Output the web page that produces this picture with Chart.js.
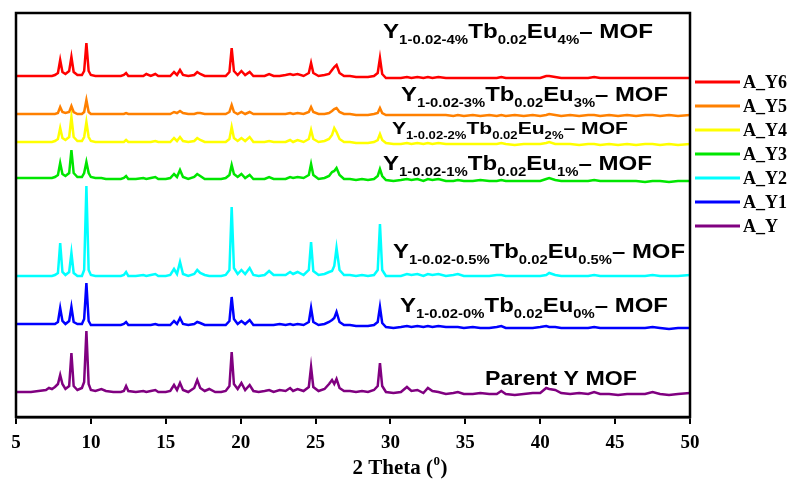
<!DOCTYPE html>
<html>
<head>
<meta charset="utf-8">
<script src="https://cdn.jsdelivr.net/npm/chart.js@4/dist/chart.umd.min.js"></script>
<style>
  html, body { margin: 0; padding: 0; background: #fff; }
  #wrap { width: 794px; height: 481px; }
</style>
</head>
<body>
<div id="wrap"><canvas id="c" width="794" height="481"></canvas></div>
<script>
// ---------- DATA ----------
const twoTheta = [
  5.0, 5.5, 6.0, 6.5, 7.0, 7.2, 7.4, 7.6, 7.8, 7.95,
  8.1, 8.3, 8.55, 8.7, 8.85, 9.1, 9.4, 9.55, 9.7, 9.85,
  10.0, 10.3, 10.7, 11.0, 11.5, 12.0, 12.2, 12.35, 12.5, 13.0,
  13.5, 13.7, 14.0, 14.3, 14.5, 15.0, 15.3, 15.55, 15.75, 15.95,
  16.15, 16.5, 16.9, 17.1, 17.3, 17.6, 17.9, 18.3, 18.7, 19.0,
  19.25, 19.4, 19.55, 19.8, 20.05, 20.3, 20.6, 20.85, 21.2, 21.6,
  21.9, 22.2, 22.6, 23.0, 23.3, 23.5, 23.8, 24.2, 24.55, 24.7,
  24.85, 25.2, 25.6, 25.9, 26.1, 26.25, 26.4, 26.6, 26.9, 27.3,
  27.7, 28.1, 28.5, 28.9, 29.15, 29.3, 29.45, 29.7, 30.2, 30.7,
  31.1, 31.4, 31.8, 32.2, 32.5, 32.8, 33.2, 33.7, 34.2, 34.5,
  34.9, 35.5, 36.0, 36.6, 37.1, 37.4, 37.7, 38.3, 38.9, 39.5,
  40.0, 40.4, 40.6, 41.0, 41.4, 42.0, 42.6, 43.2, 43.6, 44.0,
  44.6, 45.2, 45.8, 46.4, 47.0, 47.5, 48.0, 48.6, 49.2, 50.0
];

const seriesNames = ['A_Y6', 'A_Y5', 'A_Y4', 'A_Y3', 'A_Y2', 'A_Y1', 'A_Y'];
const seriesColors = ['#ff0000', '#ff8000', '#ffff00', '#00e600', '#00ffff', '#0000ff', '#800080'];
const offsets = [338, 301, 272, 235, 139, 88, 21];

const aY6 = [
  3,3,3,3,3,3,3,4,6,19,
  7,5,8,22,7,4,4,8,36,8,
  4,3,3,3,3,3,4,6,3,3,
  3,5,3,5,3,3,3,7,4,9,
  4,3,4,7,5,3,3,3,3,3,
  7,31,8,4,8,4,7,3,3,3,
  5,3,3,4,5,4,5,3,6,16,
  6,3,4,5,9,12,14,6,3,3,
  2,2,2,3,6,21,5,1,1,1,
  2,1,2,1,2,1,2,1,1,1,
  1,1,1,1,1,2,1,1,1,1,
  1,3,3,2,1,1,1,1,2,1,
  1,1,1,1,1,1,1,1,1,1
];
const aY5 = [
  2,2,2,2,2,2,2,2,3,9,
  4,3,4,10,4,2,2,4,16,4,
  2,2,2,2,2,2,2,3,2,2,
  2,2,2,2,2,2,2,4,3,5,
  3,2,2,3,3,2,2,2,2,2,
  4,11,4,2,4,2,4,2,2,2,
  2,2,2,2,3,2,3,2,4,9,
  4,2,2,3,5,7,8,4,2,2,
  1,1,1,2,3,8,3,1,1,1,
  1,1,1,1,1,1,1,1,0,1,
  0,1,0,1,0,1,0,1,0,1,
  0,1,2,1,0,1,0,1,1,0,
  1,0,1,0,1,1,0,1,0,1
];
const aY4 = [
  3,3,3,3,3,3,3,4,6,17,
  7,5,8,28,8,4,4,8,23,8,
  4,3,3,3,3,3,3,5,3,3,
  3,3,3,4,3,3,3,7,4,8,
  4,3,4,7,5,3,3,3,3,3,
  6,18,7,4,7,4,8,3,3,3,
  4,3,3,3,5,3,5,3,6,15,
  6,3,4,6,10,17,13,6,3,3,
  2,2,2,3,5,11,5,2,1,1,
  2,1,2,1,2,1,2,1,1,1,
  1,1,1,1,1,2,1,0,1,1,
  1,2,3,1,1,1,0,1,1,0,
  1,0,1,0,1,1,0,1,0,1
];
const aY3 = [
  4,4,4,4,4,4,4,5,7,19,
  8,6,9,32,9,5,5,9,20,9,
  5,4,4,3,3,3,4,6,3,3,
  4,3,4,5,3,3,4,8,5,12,
  5,3,5,8,6,3,3,3,3,4,
  7,17,8,5,8,4,7,3,3,3,
  5,3,3,3,5,4,5,4,7,18,
  7,3,4,6,10,11,14,7,3,3,
  2,3,2,3,6,13,6,2,1,2,
  3,2,3,1,3,2,3,1,1,2,
  1,1,2,1,1,2,1,1,1,1,
  1,3,4,2,1,1,1,1,2,1,
  1,1,1,1,0,1,1,0,1,1
];
const aY2 = [
  2,2,2,2,2,2,2,3,5,35,
  6,3,6,25,5,2,2,8,92,8,
  3,2,2,2,2,2,3,6,2,2,
  3,2,3,4,2,2,3,9,4,16,
  4,2,4,8,5,3,2,2,2,3,
  8,71,10,4,8,4,10,3,2,3,
  7,3,3,3,6,4,6,3,8,36,
  7,3,4,6,7,12,30,8,3,3,
  2,3,2,3,8,54,8,2,2,2,
  4,3,4,2,4,3,4,2,3,4,
  2,2,2,2,3,3,2,2,2,2,
  2,3,5,3,2,2,2,2,3,2,
  2,2,2,2,2,3,2,2,2,3
];
const aY1 = [
  5,5,5,5,5,5,5,5,7,21,
  8,5,8,22,7,5,5,10,46,8,
  4,4,4,4,4,4,5,7,4,4,
  4,4,4,5,4,4,4,8,5,11,
  5,4,5,7,6,4,4,4,4,4,
  8,32,10,5,8,5,9,4,4,4,
  4,4,5,4,5,4,5,4,7,21,
  7,4,5,7,9,11,17,7,4,4,
  3,3,3,4,7,22,6,2,1,2,
  3,2,3,2,3,2,3,2,2,2,
  1,2,1,1,2,3,1,1,1,1,
  2,3,2,2,1,1,1,1,2,1,
  1,1,1,1,1,2,1,0,1,1
];
const aY = [
  4,4,4,5,6,8,7,9,12,21,
  12,7,10,43,10,6,8,14,65,12,
  6,5,7,5,4,4,5,10,5,4,
  5,4,5,6,4,4,5,11,6,13,
  6,4,8,16,8,5,7,4,4,5,
  10,44,12,7,13,6,11,5,4,5,
  6,4,6,5,8,5,7,5,9,29,
  9,5,7,12,16,12,17,8,5,5,
  4,5,4,6,10,33,10,4,3,4,
  9,5,6,3,8,5,4,2,3,4,
  2,2,3,2,2,5,2,1,2,3,
  3,8,7,6,3,2,3,2,4,2,
  2,1,2,2,2,4,2,1,2,3
];
const seriesValues = [aY6, aY5, aY4, aY3, aY2, aY1, aY];

const xTicks = [5, 10, 15, 20, 25, 30, 35, 40, 45, 50];
const xTitle = '2 Theta (';
const xTitleSup = '0';

// Sample labels: [text, 'n' normal | 's' subscript]
const sampleLabels = [
  [['Y','n'],['1-0.02-4%','s'],['Tb','n'],['0.02','s'],['Eu','n'],['4%','s'],['\u2013 MOF','n']],
  [['Y','n'],['1-0.02-3%','s'],['Tb','n'],['0.02','s'],['Eu','n'],['3%','s'],['\u2013 MOF','n']],
  [['Y','n'],['1-0.02-2%','s'],['Tb','n'],['0.02','s'],['Eu','n'],['2%','s'],['\u2013 MOF','n']],
  [['Y','n'],['1-0.02-1%','s'],['Tb','n'],['0.02','s'],['Eu','n'],['1%','s'],['\u2013 MOF','n']],
  [['Y','n'],['1-0.02-0.5%','s'],['Tb','n'],['0.02','s'],['Eu','n'],['0.5%','s'],['\u2013 MOF','n']],
  [['Y','n'],['1-0.02-0%','s'],['Tb','n'],['0.02','s'],['Eu','n'],['0%','s'],['\u2013 MOF','n']],
  [['Parent Y MOF','n']]
];

// ---------- STYLE / LAYOUT ----------
const labelLayout = [
  { x: 383, y: 38,  size: 21, w: 270 },
  { x: 401, y: 101, size: 20, w: 267 },
  { x: 392, y: 134, size: 17, w: 236 },
  { x: 383, y: 170, size: 21, w: 269 },
  { x: 393, y: 258, size: 21, w: 292 },
  { x: 400, y: 312, size: 21, w: 268 },
  { x: 485, y: 385, size: 20, w: 152 }
];
const SANS = '"Liberation Sans", Arial, sans-serif';
const SERIF = '"Liberation Serif", "Times New Roman", serif';

function drawChem(ctx, parts, x, y, size, targetW) {
  const sub = size * 0.62, drop = size * 0.3;
  let natural = 0;
  parts.forEach(p => {
    ctx.font = 'bold ' + (p[1] === 's' ? sub : size) + 'px ' + SANS;
    natural += ctx.measureText(p[0]).width;
  });
  const sx = targetW / natural;
  ctx.save();
  ctx.translate(x, y);
  ctx.scale(sx, 1);
  ctx.fillStyle = '#000';
  ctx.textBaseline = 'alphabetic';
  ctx.textAlign = 'left';
  let cx = 0;
  parts.forEach(p => {
    const isSub = p[1] === 's';
    ctx.font = 'bold ' + (isSub ? sub : size) + 'px ' + SANS;
    ctx.fillText(p[0], cx, isSub ? drop : 0);
    cx += ctx.measureText(p[0]).width;
  });
  ctx.restore();
}

const decorPlugin = {
  id: 'decor',
  afterDraw(chart) {
    const ctx = chart.ctx, a = chart.chartArea;
    ctx.save();
    // frame
    ctx.strokeStyle = '#000';
    ctx.lineWidth = 2.5;
    ctx.strokeRect(a.left, a.top, a.right - a.left, a.bottom - a.top);
    // sample labels
    sampleLabels.forEach((parts, i) => {
      const L = labelLayout[i];
      drawChem(ctx, parts, L.x, L.y, L.size, L.w);
    });
    // x title with superscript
    ctx.fillStyle = '#000';
    ctx.textBaseline = 'alphabetic';
    ctx.textAlign = 'left';
    const f = 'bold 21px ' + SERIF, fs = 'bold 13px ' + SERIF;
    ctx.font = f; const w1 = ctx.measureText(xTitle).width;
    ctx.font = fs; const w2 = ctx.measureText(xTitleSup).width;
    ctx.font = f; const w3 = ctx.measureText(')').width;
    const tot = w1 + w2 + 1 + w3;
    const cx = 400, by = 474;
    let x0 = cx - tot / 2;
    ctx.font = f; ctx.fillText(xTitle, x0, by);
    ctx.font = fs; ctx.fillText(xTitleSup, x0 + w1 + 0.5, by - 9);
    ctx.font = f; ctx.fillText(')', x0 + w1 + w2 + 1, by);
    // legend
    chart.data.datasets.forEach((ds, i) => {
      const y = 82 + i * 24;
      ctx.strokeStyle = ds.borderColor;
      ctx.lineWidth = 3;
      ctx.beginPath();
      ctx.moveTo(695, y);
      ctx.lineTo(740, y);
      ctx.stroke();
      ctx.fillStyle = '#000';
      ctx.font = 'bold 18px ' + SERIF;
      ctx.textBaseline = 'middle';
      ctx.fillText(ds.label, 743, y + 1);
    });
    ctx.restore();
  }
};

const datasets = seriesNames.map((name, s) => ({
  label: name,
  data: twoTheta.map((t, i) => ({ x: t, y: offsets[s] + seriesValues[s][i] })),
  borderColor: seriesColors[s],
  backgroundColor: seriesColors[s],
  borderWidth: 2.5,
  pointRadius: 0,
  tension: 0,
  fill: false
}));

new Chart(document.getElementById('c'), {
  type: 'line',
  data: { datasets },
  options: {
    responsive: false,
    devicePixelRatio: 1,
    animation: false,
    layout: { padding: { left: 16, right: 104, top: 13, bottom: 0 } },
    plugins: { legend: { display: false }, tooltip: { enabled: false } },
    scales: {
      x: {
        type: 'linear',
        min: 5, max: 50,
        afterFit: s => { s.height = 64; },
        afterBuildTicks: s => { s.ticks = xTicks.map(v => ({ value: v })); },
        ticks: {
          color: '#000',
          padding: 8,
          maxRotation: 0,
          autoSkip: false,
          font: { family: SERIF, weight: 'bold', size: 19 }
        },
        grid: { drawOnChartArea: false, drawTicks: true, tickLength: 7, color: '#000', lineWidth: 2 },
        border: { display: true, color: '#000', width: 2.5 },
        title: { display: false }
      },
      y: {
        display: false,
        min: 0, max: 404
      }
    }
  },
  plugins: [decorPlugin]
});
</script>
</body>
</html>
